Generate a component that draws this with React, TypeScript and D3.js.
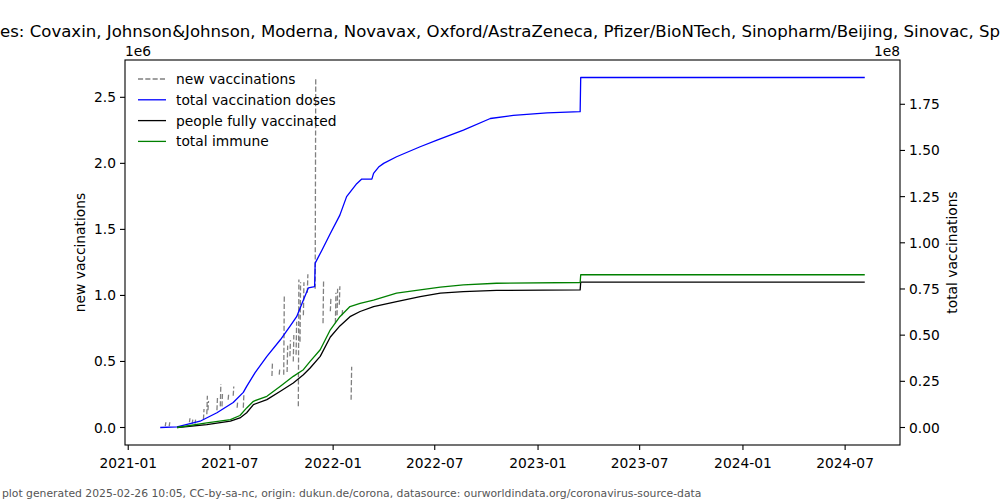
import React from "react";
import * as d3 from "d3";

// ---- data ----
const titleText =
  "es: Covaxin, Johnson&Johnson, Moderna, Novavax, Oxford/AstraZeneca, Pfizer/BioNTech, Sinopharm/Beijing, Sinovac, Sp";
const footerText =
  "plot generated 2025-02-26 10:05, CC-by-sa-nc, origin: dukun.de/corona, datasource: ourworldindata.org/coronavirus-source-data";

// new vaccinations (1e6): isolated two-day segments (start value -> next day value)
const newVaccDates = [
  "2021-03-08", "2021-03-15", "2021-04-20", "2021-04-25", "2021-04-30", "2021-05-15",
  "2021-05-21", "2021-05-23", "2021-06-08", "2021-06-14", "2021-06-17", "2021-06-28",
  "2021-07-07", "2021-07-14", "2021-07-25", "2021-09-14", "2021-09-27", "2021-10-05",
  "2021-10-11", "2021-10-16", "2021-10-22", "2021-10-27", "2021-10-31", "2021-11-03",
  "2021-11-09", "2021-11-16", "2021-11-30", "2021-12-14", "2021-12-27", "2022-01-05",
  "2022-01-08", "2022-01-12", "2022-01-17", "2022-02-02",
];
const newVaccFrom = [
  0.01, 0.01, 0.04, 0.03, 0.03, 0.06,
  0.10, 0.13, 0.13, 0.16, 0.16, 0.21,
  0.24, 0.15, 0.15, 0.39, 0.40, 0.40,
  0.42, 0.54, 0.50, 0.55, 0.16, 0.65,
  0.85, 1.02, 1.05, 0.79, 0.88, 0.79,
  0.85, 0.93, 0.85, 0.21,
];
const newVaccTo = [
  0.04, 0.04, 0.07, 0.06, 0.06, 0.14,
  0.24, 0.20, 0.23, 0.33, 0.27, 0.26,
  0.31, 0.20, 0.25, 0.50, 0.45, 1.00,
  0.62, 0.66, 0.70, 0.80, 1.12, 1.10,
  1.10, 1.16, 2.65, 1.12, 0.98, 1.02,
  1.05, 1.07, 0.90, 0.46,
];

// total vaccination doses (1e8)
const totalDates = [
  "2021-02-27", "2021-03-29", "2021-05-09", "2021-06-08", "2021-07-07", "2021-07-25",
  "2021-07-31", "2021-08-15", "2021-09-05", "2021-09-29", "2021-10-16", "2021-10-28",
  "2021-11-09", "2021-11-18", "2021-11-29", "2021-11-30", "2021-12-12", "2021-12-27",
  "2022-01-13", "2022-01-25", "2022-02-12", "2022-02-21", "2022-03-11", "2022-03-14",
  "2022-03-23", "2022-04-01", "2022-04-24", "2022-06-05", "2022-07-05", "2022-08-21",
  "2022-10-08", "2022-11-18", "2023-01-17", "2023-03-17", "2023-03-18", "2024-08-05",
];
const totalDoses = [
  0, 0.003, 0.034, 0.08, 0.135, 0.19,
  0.223, 0.297, 0.385, 0.475, 0.547, 0.60,
  0.69, 0.756, 0.763, 0.89, 0.96, 1.05,
  1.15, 1.25, 1.32, 1.345, 1.345, 1.376,
  1.41, 1.43, 1.466, 1.52, 1.556, 1.61,
  1.673, 1.69, 1.703, 1.71, 1.895, 1.895,
];

// people fully vaccinated and total immune (1e8)
const fullyDates = [
  "2021-03-29", "2021-05-21", "2021-07-02", "2021-07-19", "2021-07-31", "2021-08-12",
  "2021-09-05", "2021-09-29", "2021-10-22", "2021-11-09", "2021-11-21", "2021-12-09",
  "2021-12-27", "2022-01-13", "2022-01-31", "2022-02-18", "2022-03-14", "2022-04-24",
  "2022-06-05", "2022-07-11", "2022-08-21", "2022-10-19", "2023-03-17", "2023-03-18",
  "2024-08-05",
];
const peopleFully = [
  0, 0.016, 0.034, 0.052, 0.08, 0.124,
  0.151, 0.196, 0.241, 0.286, 0.322, 0.385,
  0.49, 0.55, 0.60, 0.628, 0.655, 0.682,
  0.709, 0.727, 0.736, 0.742, 0.745, 0.787,
  0.787,
];
const totalImmune = [
  0, 0.025, 0.043, 0.065, 0.106, 0.142,
  0.169, 0.223, 0.277, 0.313, 0.358, 0.421,
  0.529, 0.60, 0.655, 0.672, 0.69, 0.727,
  0.745, 0.76, 0.772, 0.781, 0.785, 0.827,
  0.827,
];

const xTickDates = [
  "2021-01-01", "2021-07-01", "2022-01-01", "2022-07-01",
  "2023-01-01", "2023-07-01", "2024-01-01", "2024-07-01",
];
const leftTicks = [0, 0.5, 1.0, 1.5, 2.0, 2.5];
const rightTicks = [0, 0.25, 0.5, 0.75, 1.0, 1.25, 1.5, 1.75];

const legendItems = [
  { label: "new vaccinations", color: "#808080", dash: "5.1,2.2" },
  { label: "total vaccination doses", color: "#0000ff", dash: "" },
  { label: "people fully vaccinated", color: "#000000", dash: "" },
  { label: "total immune", color: "#008000", dash: "" },
];

// ---- layout ----
const W = 1000;
const H = 500;
const L = 125;
const R = 900;
const T = 60;
const B = 445;
const FONT = "DejaVu Sans, sans-serif";
const FS = 13.8;

const parse = d3.utcParse("%Y-%m-%d");

export default function App() {
  const allDates = totalDates.map((d) => parse(d)!.getTime());
  const t0 = d3.min(allDates)!;
  const t1 = d3.max(allDates)!;
  const span = t1 - t0;
  const x = d3
    .scaleUtc()
    .domain([new Date(t0 - 0.05 * span), new Date(t1 + 0.05 * span)])
    .range([L, R]);

  const lmax = d3.max(newVaccTo.concat(newVaccFrom))!;
  const yL = d3.scaleLinear().domain([-0.05 * lmax, 1.05 * lmax]).range([B, T]);
  const rmax = d3.max(totalDoses)!;
  const yR = d3.scaleLinear().domain([-0.05 * rmax, 1.05 * rmax]).range([B, T]);

  const line = d3
    .line<[Date, number]>()
    .x((d) => x(d[0]))
    .y((d) => yR(d[1]));

  const totalPath = line(totalDates.map((d, i) => [parse(d)!, totalDoses[i]]))!;
  const fullyPath = line(fullyDates.map((d, i) => [parse(d)!, peopleFully[i]]))!;
  const immunePath = line(fullyDates.map((d, i) => [parse(d)!, totalImmune[i]]))!;

  const segLine = d3
    .line<[Date, number]>()
    .x((d) => x(d[0]))
    .y((d) => yL(d[1]));
  const newPath = newVaccDates
    .map((d, i) => {
      const a = parse(d)!;
      const b = d3.utcDay.offset(a, 1);
      return segLine([
        [a, newVaccFrom[i]],
        [b, newVaccTo[i]],
      ]);
    })
    .join("");

  return (
    <svg
      width={W}
      height={H}
      style={{ position: "absolute", left: 0, top: 0, background: "#fff" }}
      fontFamily={FONT}
    >
      <rect x={0} y={0} width={W} height={H} fill="#fff" />
      <text x={0} y={37} fontSize={16.4} fill="#000" textLength={1000} lengthAdjust="spacingAndGlyphs">
        {titleText}
      </text>

      <defs>
        <clipPath id="plotclip">
          <rect x={L} y={T} width={R - L} height={B - T} />
        </clipPath>
      </defs>

      <g clipPath="url(#plotclip)" fill="none" strokeLinejoin="round">
        <path d={newPath} stroke="#808080" strokeWidth={1.3} strokeDasharray="5.1,2.2" />
        <path d={totalPath} stroke="#0000ff" strokeWidth={1.3} />
        <path d={fullyPath} stroke="#000000" strokeWidth={1.3} />
        <path d={immunePath} stroke="#008000" strokeWidth={1.3} />
      </g>

      {/* spines */}
      <rect x={L} y={T} width={R - L} height={B - T} fill="none" stroke="#000" strokeWidth={1.1} />

      {/* x axis */}
      {xTickDates.map((d) => {
        const px = x(parse(d)!);
        return (
          <g key={d}>
            <line x1={px} x2={px} y1={B} y2={B + 5} stroke="#000" strokeWidth={1.1} />
            <text x={px} y={B + 23} fontSize={FS} textAnchor="middle" fill="#000">
              {d3.utcFormat("%Y-%m")(parse(d)!)}
            </text>
          </g>
        );
      })}

      {/* left axis */}
      {leftTicks.map((v) => {
        const py = yL(v);
        return (
          <g key={"l" + v}>
            <line x1={L - 5} x2={L} y1={py} y2={py} stroke="#000" strokeWidth={1.1} />
            <text x={L - 9} y={py + 5} fontSize={FS} textAnchor="end" fill="#000">
              {v.toFixed(1)}
            </text>
          </g>
        );
      })}
      <text x={L} y={56} fontSize={FS} fill="#000">1e6</text>
      <text
        transform={`translate(85,${(T + B) / 2}) rotate(-90)`}
        fontSize={FS}
        textAnchor="middle"
        fill="#000"
      >
        new vaccinations
      </text>

      {/* right axis */}
      {rightTicks.map((v) => {
        const py = yR(v);
        return (
          <g key={"r" + v}>
            <line x1={R} x2={R + 5} y1={py} y2={py} stroke="#000" strokeWidth={1.1} />
            <text x={R + 9} y={py + 5} fontSize={FS} textAnchor="start" fill="#000">
              {v.toFixed(2)}
            </text>
          </g>
        );
      })}
      <text x={R} y={56} fontSize={FS} textAnchor="end" fill="#000">1e8</text>
      <text
        transform={`translate(957,${(T + B) / 2}) rotate(-90)`}
        fontSize={FS}
        textAnchor="middle"
        fill="#000"
      >
        total vaccinations
      </text>

      {/* legend */}
      {legendItems.map((it, i) => {
        const py = 79 + i * 20.8;
        return (
          <g key={it.label}>
            <line
              x1={138}
              x2={166}
              y1={py}
              y2={py}
              stroke={it.color}
              strokeWidth={1.3}
              strokeDasharray={it.dash || undefined}
            />
            <text x={176} y={py + 5} fontSize={FS} fill="#000">
              {it.label}
            </text>
          </g>
        );
      })}

      <text x={2} y={497} fontSize={10.8} fill="#555">
        {footerText}
      </text>
    </svg>
  );
}
